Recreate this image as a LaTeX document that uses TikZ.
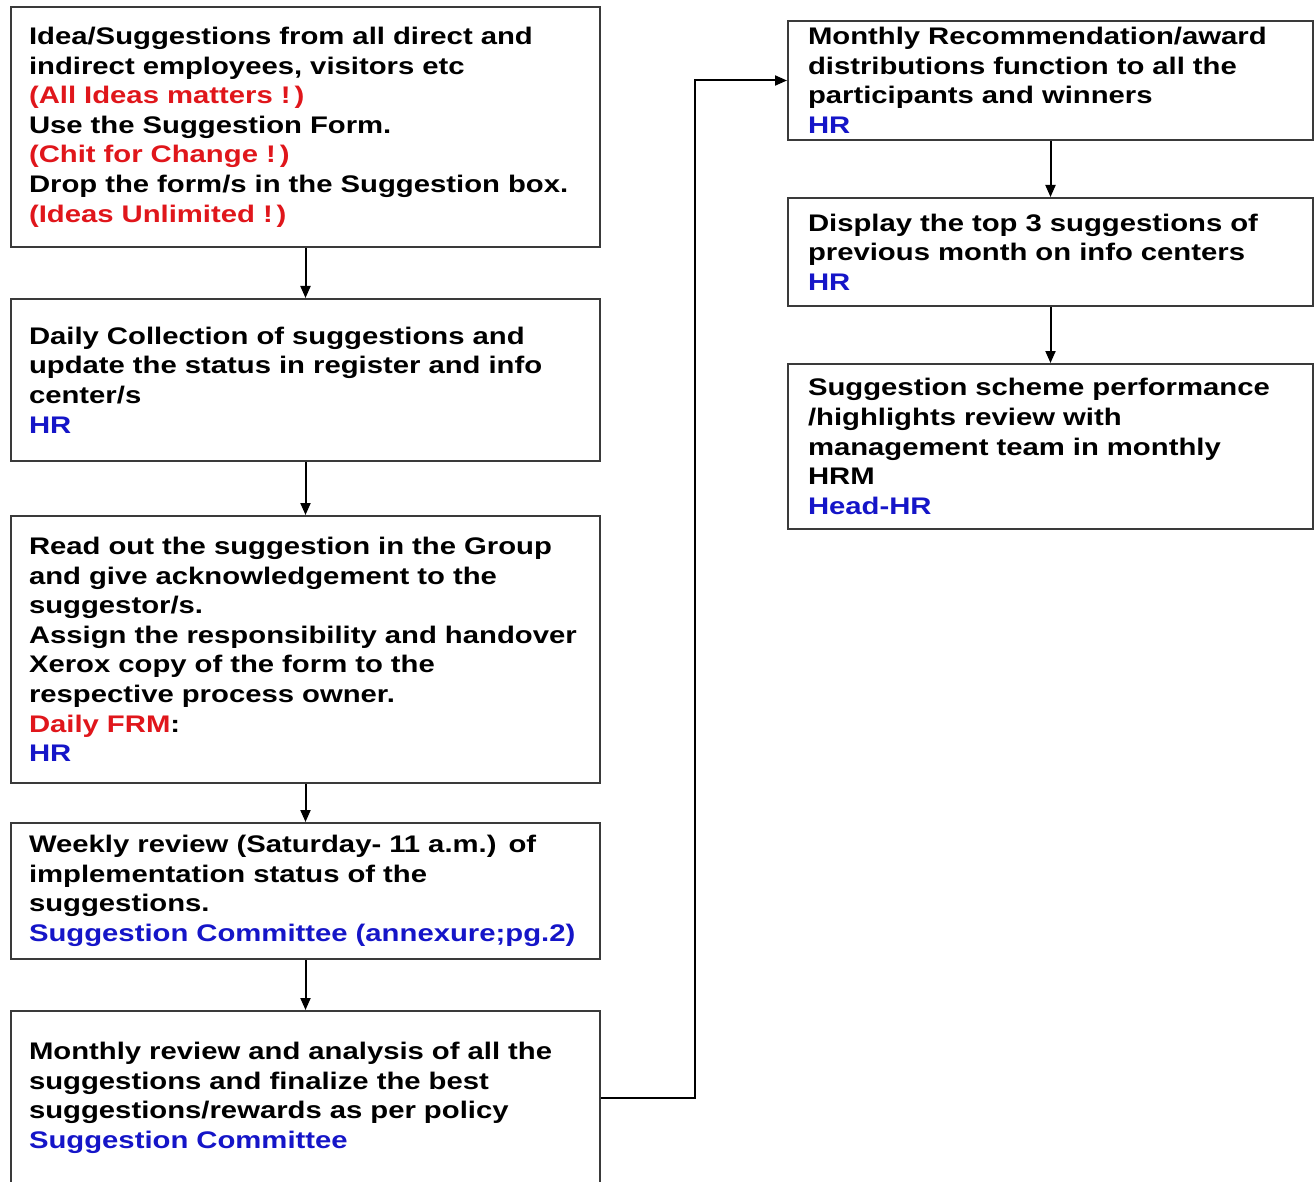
\documentclass[tikz,border=0pt]{standalone}
\usepackage{fontspec}
\setmainfont{Liberation Sans}[FakeStretch=1.22]
\usetikzlibrary{arrows.meta, positioning}
\definecolor{slogan}{HTML}{E0161B}
\definecolor{owner}{HTML}{1515C8}
\definecolor{frame}{HTML}{3A3A3A}

\begin{document}
\begin{tikzpicture}[x=1pt, y=1pt, >={Triangle[length=12pt, width=10pt]}, line width=2pt,
  flowbox/.style={draw=frame, line width=2pt, anchor=north west, align=left,
    inner ysep=0pt, font=\fontsize{24}{29.6}\selectfont\bfseries},
  leftbox/.style={flowbox, inner xsep=18pt, text width=553pt},
  rightbox/.style={flowbox, inner xsep=20pt, text width=485pt}]

% Page
\clip (0,0) rectangle (1314,-1182);
\fill[white] (0,0) rectangle (1314,-1182);

% --- Left column ---
\node[leftbox, minimum height=240pt] (idea) at (10,-6)
  {Idea/Suggestions from all direct and\\
   indirect employees, visitors etc\\
   \textcolor{slogan}{(All Ideas matters !\,)}\\
   Use the Suggestion Form.\\
   \textcolor{slogan}{(Chit for Change !\,)}\\
   Drop the form/s in the Suggestion box.\\
   \textcolor{slogan}{(Ideas Unlimited !\,)}};

\node[leftbox, minimum height=162pt] (collect) at (10,-298)
  {Daily Collection of suggestions and\\
   update the status in register and info\\
   center/s\\
   \textcolor{owner}{HR}};

\node[leftbox, minimum height=267pt] (readout) at (10,-515)
  {Read out the suggestion in the Group\\
   and give acknowledgement to the\\
   suggestor/s.\\
   Assign the responsibility and handover\\
   Xerox copy of the form to the\\
   respective process owner.\\
   \textcolor{slogan}{Daily FRM}:\\
   \textcolor{owner}{HR}};

\node[leftbox, minimum height=136pt] (weekly) at (10,-822)
  {Weekly review (Saturday- 11 a.m.) of\\
   implementation status of the\\
   suggestions.\\
   \textcolor{owner}{Suggestion Committee (annexure;pg.2)}};

\node[leftbox, minimum height=174pt] (monthly) at (10,-1010)
  {Monthly review and analysis of all the\\
   suggestions and finalize the best\\
   suggestions/rewards as per policy\\
   \textcolor{owner}{Suggestion Committee}};

% --- Right column ---
\node[rightbox, minimum height=119pt] (award) at (787,-20)
  {Monthly Recommendation/award\\
   distributions function to all the\\
   participants and winners\\
   \textcolor{owner}{HR}};

\node[rightbox, minimum height=108pt] (display) at (787,-197)
  {Display the top 3 suggestions of\\
   previous month on info centers\\
   \textcolor{owner}{HR}};

\node[rightbox, minimum height=165pt] (review) at (787,-363)
  {Suggestion scheme performance\\
   /highlights review with\\
   management team in monthly\\
   HRM\\
   \textcolor{owner}{Head-HR}};

% --- Connectors ---
\draw[->] (idea.south) -- (collect.north);
\draw[->] (collect.south) -- (readout.north);
\draw[->] (readout.south) -- (weekly.north);
\draw[->] (weekly.south) -- (monthly.north);
\draw[->] (monthly.east) -- ++(94,0) |- (award.west);
\draw[->] (award.south) -- (display.north);
\draw[->] (display.south) -- (review.north);

\end{tikzpicture}
\end{document}
